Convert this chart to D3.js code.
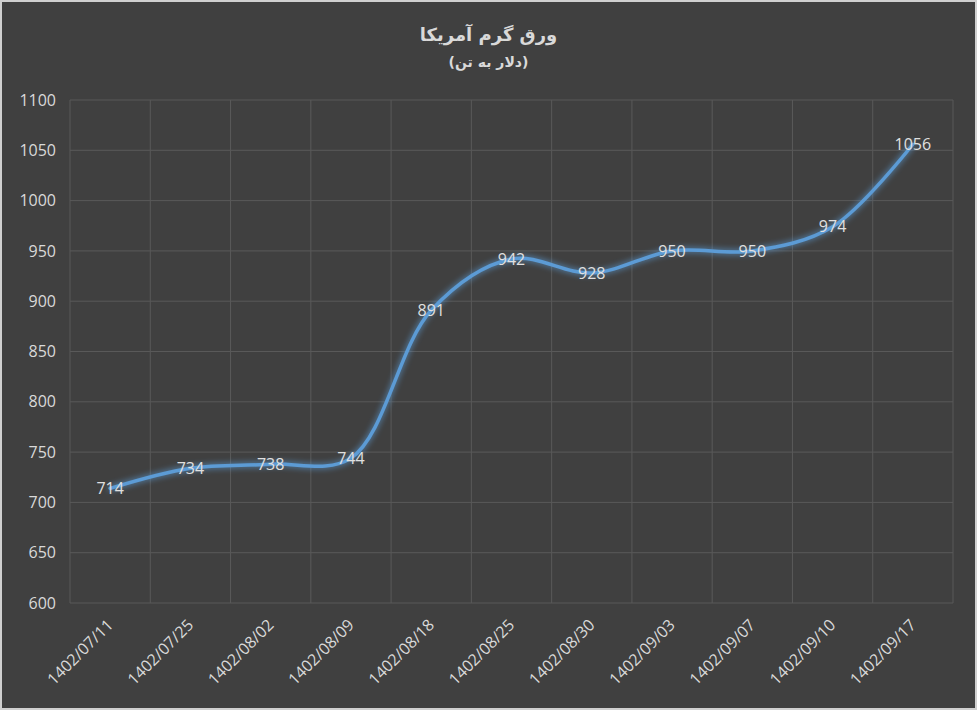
<!DOCTYPE html>
<html><head><meta charset="utf-8">
<script src="https://cdn.jsdelivr.net/npm/d3@7"></script>
<style>body{margin:0;background:#404040}</style>
</head><body>
<script>
// chart data
var dates = ["1402/07/11","1402/07/25","1402/08/02","1402/08/09","1402/08/18","1402/08/25","1402/08/30","1402/09/03","1402/09/07","1402/09/10","1402/09/17"];
var prices = [714,734,738,744,891,942,928,950,950,974,1056];
var yTicks = [600,650,700,750,800,850,900,950,1000,1050,1100];

var W = 977, H = 710;
var margin = {left:70, right:24, top:100, bottom:107};

var svg = d3.select("body").append("svg").attr("width",W).attr("height",H);
svg.append("rect").attr("x",1).attr("y",1).attr("width",W-2).attr("height",H-2)
   .attr("fill","#404040").attr("stroke","#d0d0d0").attr("stroke-width",2);

var defs = svg.append("defs");
var glow = defs.append("filter").attr("id","glow").attr("x","-10%").attr("y","-10%").attr("width","120%").attr("height","120%");
glow.append("feGaussianBlur").attr("stdDeviation",3).attr("result","b");
var m = glow.append("feMerge");
m.append("feMergeNode").attr("in","b");
m.append("feMergeNode").attr("in","SourceGraphic");

var x = d3.scaleBand().domain(dates).range([margin.left, W-margin.right]);
var y = d3.scaleLinear().domain([600,1100]).range([H-margin.bottom, margin.top]);

var g = svg.append("g");
// gridlines
g.selectAll(".hg").data(yTicks).enter().append("line")
  .attr("x1",margin.left).attr("x2",W-margin.right)
  .attr("y1",function(d){return y(d);}).attr("y2",function(d){return y(d);})
  .attr("stroke","#595959").attr("stroke-width",1);
var bounds = dates.map(function(d){return x(d);}).concat([W-margin.right]);
g.selectAll(".vg").data(bounds).enter().append("line")
  .attr("x1",function(d){return d;}).attr("x2",function(d){return d;})
  .attr("y1",margin.top).attr("y2",H-margin.bottom)
  .attr("stroke","#595959").attr("stroke-width",1);

// y labels
g.selectAll(".yl").data(yTicks).enter().append("text")
  .attr("x",margin.left-14).attr("y",function(d){return y(d);}).attr("dy","0.35em")
  .attr("text-anchor","end").attr("fill","#d9d9d9")
  .style("font","16px 'Open Sans', sans-serif").text(function(d){return d;});

// x labels
g.selectAll(".xl").data(dates).enter().append("text")
  .attr("transform",function(d){return "translate("+(x(d)+x.bandwidth()/2+4)+","+(H-margin.bottom+23)+") rotate(-45)";})
  .attr("text-anchor","end").attr("fill","#d9d9d9")
  .style("font","16px 'Open Sans', sans-serif").text(function(d){return d;});

var cx = function(i){return x(dates[i])+x.bandwidth()/2;};
var line = d3.line().x(function(d,i){return cx(i);}).y(function(d){return y(d);}).curve(d3.curveCatmullRom.alpha(0.5));
g.append("path").attr("d",line(prices)).attr("fill","none")
  .attr("stroke","#5b9bd5").attr("stroke-width",3.5).attr("stroke-linecap","round").attr("stroke-linejoin","round")
  .attr("filter","url(#glow)");

g.selectAll(".dl").data(prices).enter().append("text")
  .attr("x",function(d,i){return cx(i);}).attr("y",function(d){return y(d);}).attr("dy","0.35em")
  .attr("text-anchor","middle").attr("fill","#e0e0e0")
  .style("font","16px 'Open Sans', sans-serif").text(function(d){return d;});

svg.append("text").attr("x",W/2).attr("y",41).attr("text-anchor","middle")
  .attr("fill","#d9d9d9").style("font","bold 18px 'DejaVu Sans', sans-serif").text("ورق گرم آمریکا");
svg.append("text").attr("x",W/2).attr("y",67).attr("text-anchor","middle")
  .attr("fill","#d9d9d9").style("font","bold 14px 'DejaVu Sans', sans-serif").text("(دلار به تن)");
</script>
</body></html>
